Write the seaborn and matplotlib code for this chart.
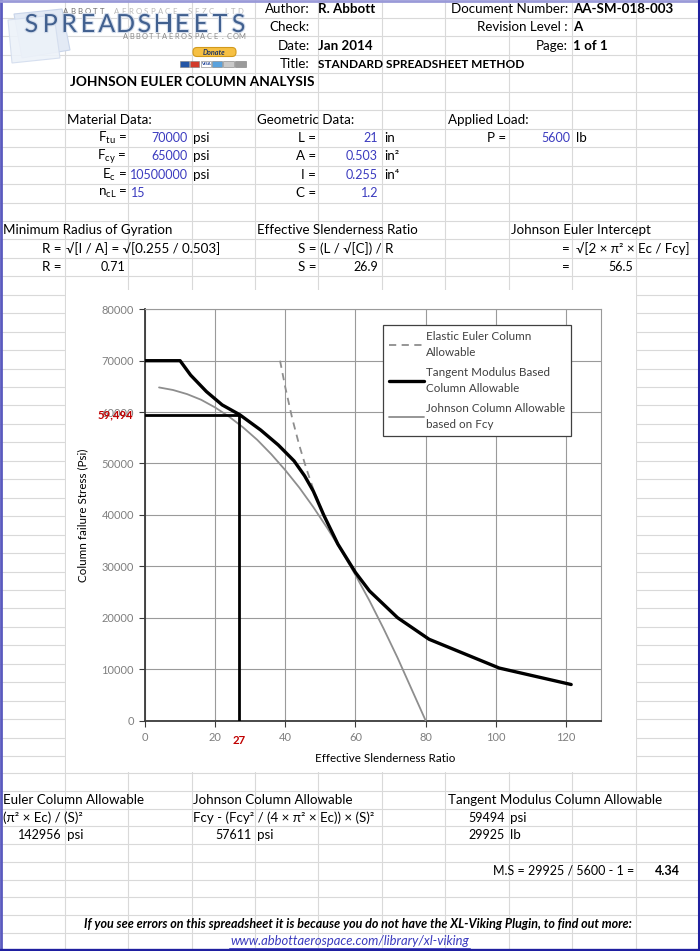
import numpy as np
import pandas as pd
import matplotlib
matplotlib.use("Agg")
import matplotlib.pyplot as plt
import seaborn as sns
from matplotlib.patches import Rectangle, FancyBboxPatch, Polygon
from matplotlib.lines import Line2D
import matplotlib.patheffects as pe

# ---------------- data ----------------
euler_x = [38.5, 40, 42, 44, 46, 48, 51, 55, 60, 64, 72, 81, 101, 121.5]
euler_y = [70000, 64800, 58700, 53500, 49000, 45000, 39900, 34300, 28800, 25200,
           20000, 15800, 10200, 7000]

tangent_x = [0, 10, 13, 17.5, 22, 27, 33, 38, 42.5, 45.5, 48, 51, 55, 60, 64, 72, 81, 101, 121.5]
tangent_y = [70000, 70000, 67200, 64000, 61400, 59494, 56500, 53600, 50500, 47600, 44600,
             39900, 34300, 28800, 25200, 20000, 15800, 10200, 7000]

johnson_x = [4, 8, 12, 16, 20, 24, 28, 32, 36, 40, 44, 48, 52, 56, 60, 64, 68, 72, 76, 80]
johnson_y = [64800, 64300, 63500, 62400, 60900, 59100, 57000, 54600, 51800, 48700, 45300,
             41500, 37400, 33000, 28300, 23300, 17900, 12200, 6100, 0]

slenderness = 26.9          # effective slenderness ratio S
tangent_allow = 59494       # tangent modulus allowable at S

x_ticks = [0, 20, 40, 60, 80, 100, 120]
y_ticks = [0, 10000, 20000, 30000, 40000, 50000, 60000, 70000, 80000]

series_labels = ["Elastic Euler Column\nAllowable",
                 "Tangent Modulus Based\nColumn Allowable",
                 "Johnson Column Allowable\nbased on Fcy"]

# ---------------- style ----------------
sns.set_theme(style="white")
plt.rcParams['font.family'] = ['Lato', 'DejaVu Sans']
plt.rcParams['mathtext.fontset'] = 'custom'
plt.rcParams['mathtext.rm'] = 'Lato'
plt.rcParams['mathtext.it'] = 'Lato:italic'
plt.rcParams['mathtext.bf'] = 'Lato:bold'

W, H = 700, 951
fig = plt.figure(figsize=(7, 9.51), dpi=100)
fig.patch.set_facecolor('white')
bg = fig.add_axes([0, 0, 1, 1])
bg.set_xlim(0, W)
bg.set_ylim(H, 0)
bg.axis('off')

GRID = '#d9d9d9'
BLUE = '#3b3bbf'
FS = 9.6
FN = 9.0   # numbers

col_lines = [1, 65, 128, 192, 255, 318, 382, 445, 509, 572, 636]
row_lines = [18.0 + 18.45 * k for k in range(41)] + [773.3 + 17.7 * k for k in range(10)]
for x in col_lines:
    bg.plot([x, x], [0, H], color=GRID, lw=0.8, zorder=1)
for y in row_lines:
    if y < 950:
        bg.plot([0, W], [y, y], color=GRID, lw=0.8, zorder=1)

# chart area (white)
bg.add_patch(Rectangle((66, 290), 570, 482, facecolor='white', edgecolor='none', zorder=3))


def T(x, y, s, ha='left', color='black', weight='normal', size=FS, style='normal', **kw):
    return bg.text(x, y, s, ha=ha, va='center', color=color, fontweight=weight,
                   fontsize=size, fontstyle=style, zorder=6, **kw)


def spaced(text, x0, x1, y, colors, **kw):
    n = len(text)
    step = (x1 - x0) / n
    for i, c in enumerate(text):
        bg.text(x0 + (i + 0.5) * step, y, c, ha='center', va='center',
                color=colors[i] if isinstance(colors, list) else colors, zorder=6, **kw)


# ---------------- logo ----------------
bg.add_patch(Polygon([(14, 14), (62, 9), (70, 50), (22, 58)], closed=True,
                     facecolor='#e3eaf5', edgecolor='#c9d5ea', lw=0.8, zorder=4))
bg.add_patch(Polygon([(8, 20), (54, 15), (60, 58), (12, 63)], closed=True,
                     facecolor='#edf2f9', edgecolor='#d3ddee', lw=0.8, zorder=4, alpha=0.9))
top_txt = "ABBOTT AEROSPACE SEZC LTD"
top_cols = ['#6e6e6e'] * 6 + ['#b8b8b8'] * (len(top_txt) - 6)
spaced(top_txt, 62, 244, 11, top_cols, fontsize=5.6)
spaced("SPREADSHEETS", 22, 248, 24.5, '#41608f', fontsize=18,
       path_effects=[pe.withStroke(linewidth=1.6, foreground='#d3dceb')])
spaced("ABBOTTAEROSPACE.COM", 122, 245, 36.5, '#8a8a8a', fontsize=5.4)
bg.add_patch(FancyBboxPatch((193, 47.5), 43, 9, boxstyle="round,pad=0,rounding_size=4",
                            facecolor='#f6c043', edgecolor='#d29a1c', lw=0.8, zorder=5))
bg.text(214.5, 52.2, "Donate", ha='center', va='center', fontsize=5.2, fontstyle='italic',
        fontweight='bold', color='#1d3564', zorder=6)
for x0, w, c in [(180, 9, '#2456a6'), (190, 9, '#d23a2a'), (201, 10, '#ffffff'),
                 (212, 10, '#5aa2dc'), (223, 11, '#c9c9c9'), (235, 11, '#9a9a9a')]:
    bg.add_patch(Rectangle((x0, 61), w, 5.5, facecolor=c, edgecolor='#7a7a7a', lw=0.4, zorder=5))
bg.text(206, 63.8, "VISA", ha='center', va='center', fontsize=3.2, fontweight='bold',
        color='#1a3f95', zorder=6)

# ---------------- header ----------------
T(310, 8.7, "Author:", ha='right')
T(318, 8.7, "R. Abbott", weight='bold')
T(310, 27.2, "Check:", ha='right')
T(310, 45.6, "Date:", ha='right')
T(318, 45.6, "Jan 2014", weight='bold')
T(310, 64.1, "Title:", ha='right')
T(318, 64.1, "STANDARD SPREADSHEET METHOD", weight='bold', size=8.6)
T(568, 8.7, "Document Number:", ha='right')
T(573, 8.7, "AA-SM-018-003", weight='bold')
T(568, 27.2, "Revision Level :", ha='right')
T(573, 27.2, "A", weight='bold')
T(568, 45.6, "Page:", ha='right')
T(573, 45.6, "1 of 1", weight='bold')
T(70, 82.5, "JOHNSON EULER COLUMN ANALYSIS", weight='bold', size=9.8)

# ---------------- inputs ----------------
T(67, 119.5, "Material Data:")
T(127, 137.9, r"F$_{\mathrm{tu}}$ =", ha='right')
T(188, 137.9, "70000", ha='right', color=BLUE, size=FN)
T(193, 137.9, "psi")
T(127, 156.4, r"F$_{\mathrm{cy}}$ =", ha='right')
T(188, 156.4, "65000", ha='right', color=BLUE, size=FN)
T(193, 156.4, "psi")
T(127, 174.8, r"E$_{\mathrm{c}}$ =", ha='right')
T(188, 174.8, "10500000", ha='right', color=BLUE, size=FN)
T(193, 174.8, "psi")
T(127, 193.3, r"n$_{\mathrm{cL}}$ =", ha='right')
T(131, 193.3, "15", color=BLUE, size=FN)

T(257, 119.5, "Geometric Data:")
T(316, 137.9, "L =", ha='right')
T(378, 137.9, "21", ha='right', color=BLUE, size=FN)
T(384, 137.9, "in")
T(316, 156.4, "A =", ha='right')
T(378, 156.4, "0.503", ha='right', color=BLUE, size=FN)
T(384, 156.4, "in²")
T(316, 174.8, "I =", ha='right')
T(378, 174.8, "0.255", ha='right', color=BLUE, size=FN)
T(384, 174.8, "in⁴")
T(316, 193.3, "C =", ha='right')
T(378, 193.3, "1.2", ha='right', color=BLUE, size=FN)

T(448, 119.5, "Applied Load:")
T(506, 137.9, "P =", ha='right')
T(570, 137.9, "5600", ha='right', color=BLUE, size=FN)
T(576, 137.9, "lb")

T(3, 230.2, "Minimum Radius of Gyration")
T(257, 230.2, "Effective Slenderness Ratio")
T(511, 230.2, "Johnson Euler Intercept")
T(62, 248.6, "R =", ha='right')
T(66, 248.6, "√[I / A] = √[0.255 / 0.503]")
T(316, 248.6, "S =", ha='right')
T(320, 248.6, "(L / √[C]) / R")
T(570, 248.6, "=", ha='right')
T(576, 248.6, "√[2 × π² × Ec / Fcy]")
T(62, 267, "R =", ha='right')
T(125, 267, "0.71", ha='right', size=FN)
T(316, 267, "S =", ha='right')
T(378, 267, "26.9", ha='right', size=FN)
T(570, 267, "=", ha='right')
T(633, 267, "56.5", ha='right', size=FN)

# ---------------- results ----------------
T(3, 800, "Euler Column Allowable")
T(193, 800, "Johnson Column Allowable")
T(448, 800, "Tangent Modulus Column Allowable")
T(3, 817.5, "(π² × Ec) / (S)²")
T(193, 817.5, "Fcy - (Fcy² / (4 × π² × Ec)) × (S)²")
T(505, 817.5, "59494", ha='right', size=FN)
T(510, 817.5, "psi")
T(62, 835.2, "142956", ha='right', size=FN)
T(67, 835.2, "psi")
T(252, 835.2, "57611", ha='right', size=FN)
T(257, 835.2, "psi")
T(505, 835.2, "29925", ha='right', size=FN)
T(510, 835.2, "lb")
T(634, 870.6, "M.S = 29925 / 5600 - 1 =", ha='right', size=9.0)
T(680, 870.6, "4.34", ha='right', weight='bold', size=FN)
T(358, 923.8, "If you see errors on this spreadsheet it is because you do not have the XL-Viking Plugin, to find out more:",
  ha='center', weight='bold', style='italic', size=9.0)
T(350, 940.8, "www.abbottaerospace.com/library/xl-viking", ha='center', style='italic',
  color=BLUE, size=9.4)
bg.plot([229, 470], [947.5, 947.5], color=BLUE, lw=0.6, zorder=6)

# outer frame
bg.plot([0.8, 0.8], [0, H], color='#5a5abf', lw=2.0, zorder=8)
bg.plot([0, W], [0.8, 0.8], color='#9a9ad8', lw=2.0, zorder=8)
bg.plot([W - 1, W - 1], [0, H], color='#1f1fa0', lw=2.2, zorder=8)
bg.plot([0, W], [H - 1.2, H - 1.2], color='#1f1fa0', lw=2.4, zorder=8)

# ---------------- chart ----------------
ax = fig.add_axes([145 / W, 1 - 720.5 / H, (601 - 145) / W, (720.5 - 309.3) / H])
ax.set_zorder(5)
ax.set_facecolor('white')

df_e = pd.DataFrame({'S': euler_x, 'F': euler_y})
df_t = pd.DataFrame({'S': tangent_x, 'F': tangent_y})
df_j = pd.DataFrame({'S': johnson_x, 'F': johnson_y})

GRAYLINE = '#8e8e8e'
sns.lineplot(data=df_e, x='S', y='F', ax=ax, color=GRAYLINE, lw=1.3, linestyle=(0, (4, 3)),
             label=series_labels[0], zorder=3)
sns.lineplot(data=df_j, x='S', y='F', ax=ax, color=GRAYLINE, lw=1.3,
             label=series_labels[2], zorder=3)
sns.lineplot(data=df_t, x='S', y='F', ax=ax, color='black', lw=2.4,
             label=series_labels[1], zorder=4)
ax.plot([slenderness, slenderness], [0, tangent_allow], color='black', lw=2.0, zorder=4)
ax.plot([0, slenderness], [tangent_allow, tangent_allow], color='black', lw=2.0, zorder=4)

ax.set_xlim(0, 130)
ax.set_ylim(0, 80000)
ax.set_xticks(x_ticks)
ax.set_yticks(y_ticks)
ax.set_xticklabels([str(v) for v in x_ticks])
ax.set_yticklabels([str(v) for v in y_ticks])
ax.grid(True, color='#9a9a9a', lw=0.8)
ax.set_axisbelow(True)
for side in ['left', 'bottom']:
    ax.spines[side].set_color('#3a3a3a')
    ax.spines[side].set_linewidth(1.3)
for side in ['top', 'right']:
    ax.spines[side].set_color('#9a9a9a')
    ax.spines[side].set_linewidth(0.8)
ax.tick_params(axis='both', which='major', length=4, width=0.8, color='#3a3a3a',
               labelcolor='#7f7f7f', labelsize=8, direction='out', pad=4,
               left=True, bottom=True)

ax.set_xlabel("Effective Slenderness Ratio", fontsize=8.4, color='black')
ax.set_ylabel("Column failure Stress (Psi)", fontsize=8.4, color='black')
ax.xaxis.label.set_va('center')
ax.yaxis.label.set_va('center')
ax.xaxis.set_label_coords((385 - 145) / 456, (720.5 - 758) / 411.2)
ax.yaxis.set_label_coords((83 - 145) / 456, 0.5)

ax.annotate(f"{tangent_allow:,}", xy=(0, tangent_allow), xycoords=('axes fraction', 'data'),
            xytext=(-12, 0), textcoords='offset pixels', ha='right', va='center',
            color='#c00000', fontsize=8.2, fontweight='bold', annotation_clip=False)
ax.annotate(f"{slenderness:.0f}", xy=(slenderness, 0), xycoords='data',
            xytext=(0, -20), textcoords='offset pixels', ha='center', va='center',
            color='#c00000', fontsize=8.2, fontweight='bold', annotation_clip=False)

handles, labels = ax.get_legend_handles_labels()
order = [labels.index(l) for l in series_labels]
leg = ax.legend([handles[i] for i in order], [labels[i] for i in order],
                loc='upper left', bbox_to_anchor=(383 / W, 1 - 325 / H),
                bbox_transform=fig.transFigure, frameon=True, fancybox=False,
                edgecolor='#404040', framealpha=1, fontsize=8.4, handlelength=3.0,
                handletextpad=0.2, labelspacing=0.8, borderpad=0.5, borderaxespad=0)
leg.get_frame().set_linewidth(0.9)
for t in leg.get_texts():
    t.set_color('#404040')
    t.set_linespacing(1.55)

fig.savefig("out.png", dpi=100)
